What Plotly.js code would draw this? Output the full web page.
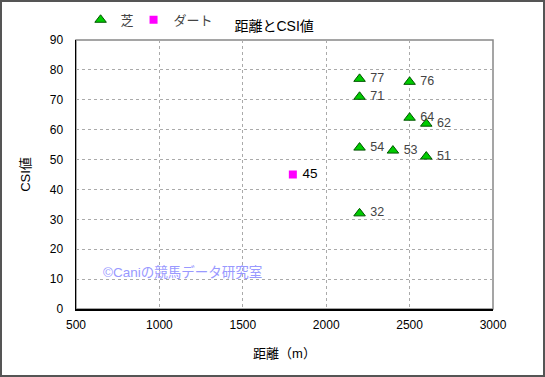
<!DOCTYPE html>
<html><head><meta charset="utf-8">
<script src="https://cdn.plot.ly/plotly-3.0.1.min.js"></script>
<style>
html,body{margin:0;padding:0;background:#fff;}
#wrap{position:relative;width:545px;height:377px;}
#chart{width:545px;height:377px;}
#frame{position:absolute;left:0;top:0;width:545px;height:377px;box-sizing:border-box;border:2px solid #555;pointer-events:none;}
</style>
</head><body>
<div id="wrap"><div id="chart"></div><div id="frame"></div></div>
<script>
const turfDist = [2200, 2500, 2200, 2500, 2600, 2200, 2400, 2600, 2200];
const turfCSI  = [77, 76, 71, 64, 62, 54, 53, 51, 32];
const dirtDist = [1800];
const dirtCSI  = [45];
const xTicks = [500, 1000, 1500, 2000, 2500, 3000];
const yTicks = [0, 10, 20, 30, 40, 50, 60, 70, 80, 90];

const FONT = 'Liberation Sans, Arial, Noto Sans CJK JP, sans-serif';

const traces = [
  {
    x: turfDist, y: turfCSI, name: '芝', type: 'scatter', mode: 'markers+text',
    text: turfCSI.map(v => ' ' + v), textposition: 'middle right',
    textfont: {family: FONT, size: 12.5, color: '#444'},
    marker: {symbol: 'triangle-up', size: 10, color: '#00cc00', line: {color: '#005500', width: 1}},
    cliponaxis: false, legend: 'legend'
  },
  {
    x: dirtDist, y: dirtCSI, name: 'ダート', type: 'scatter', mode: 'markers+text',
    text: dirtCSI.map(v => ' ' + v), textposition: 'middle right',
    textfont: {family: FONT, size: 13.5, color: '#000'},
    marker: {symbol: 'square', size: 8, color: '#ff00ff', line: {width: 0}},
    cliponaxis: false, legend: 'legend2'
  }
];

const legendBase = {orientation: 'h', xanchor: 'left', y: 1.075, yanchor: 'middle',
  font: {family: FONT, size: 13, color: '#444'}, bgcolor: 'rgba(0,0,0,0)', itemwidth: 30};

const layout = {
  width: 545, height: 377,
  margin: {l: 75.5, r: 52, t: 40, b: 68, autoexpand: false},
  paper_bgcolor: '#fff', plot_bgcolor: '#fff',
  font: {family: FONT, size: 12, color: '#000'},
  title: {text: '距離とCSI値', font: {family: FONT, size: 14, color: '#000'}, x: 0.503, xanchor: 'center', y: 0.93, yanchor: 'middle'},
  showlegend: true,
  legend: Object.assign({}, legendBase, {x: 0.011}),
  legend2: Object.assign({}, legendBase, {x: 0.138}),
  xaxis: {
    range: [500, 3000], tickvals: xTicks, ticktext: xTicks.map(String),
    showgrid: true, gridcolor: '#aaa', griddash: 'dot', gridwidth: 1,
    showline: true, linecolor: '#000', linewidth: 1.5, zeroline: false,
    ticks: '', ticklabelstandoff: 4, tickfont: {family: FONT, size: 12, color: '#000'},
    title: {text: '距離（m）', font: {family: FONT, size: 13, color: '#000'}, standoff: 18}
  },
  yaxis: {
    range: [0, 90], tickvals: yTicks, ticktext: yTicks.map(String),
    showgrid: true, gridcolor: '#aaa', griddash: 'dot', gridwidth: 1,
    showline: true, linecolor: '#000', linewidth: 1.5, zeroline: false,
    ticks: '', ticklabelstandoff: 9, tickfont: {family: FONT, size: 12, color: '#000'},
    title: {text: 'CSI値', font: {family: FONT, size: 13, color: '#000'}, standoff: 16}
  },
  shapes: [
    {type: 'rect', xref: 'paper', yref: 'paper', x0: 0, x1: 1, y0: 0, y1: 1,
     line: {color: '#888', width: 1.5}, layer: 'below'}
  ],
  annotations: [
    {text: '©Caniの競馬データ研究室', xref: 'paper', yref: 'paper', x: 0.06, y: 0.1375,
     xanchor: 'left', yanchor: 'middle', showarrow: false,
     font: {family: FONT, size: 13.5, color: '#9999ff'}}
  ]
};

Plotly.newPlot('chart', traces, layout, {displayModeBar: false, staticPlot: true});
</script>
</body></html>
